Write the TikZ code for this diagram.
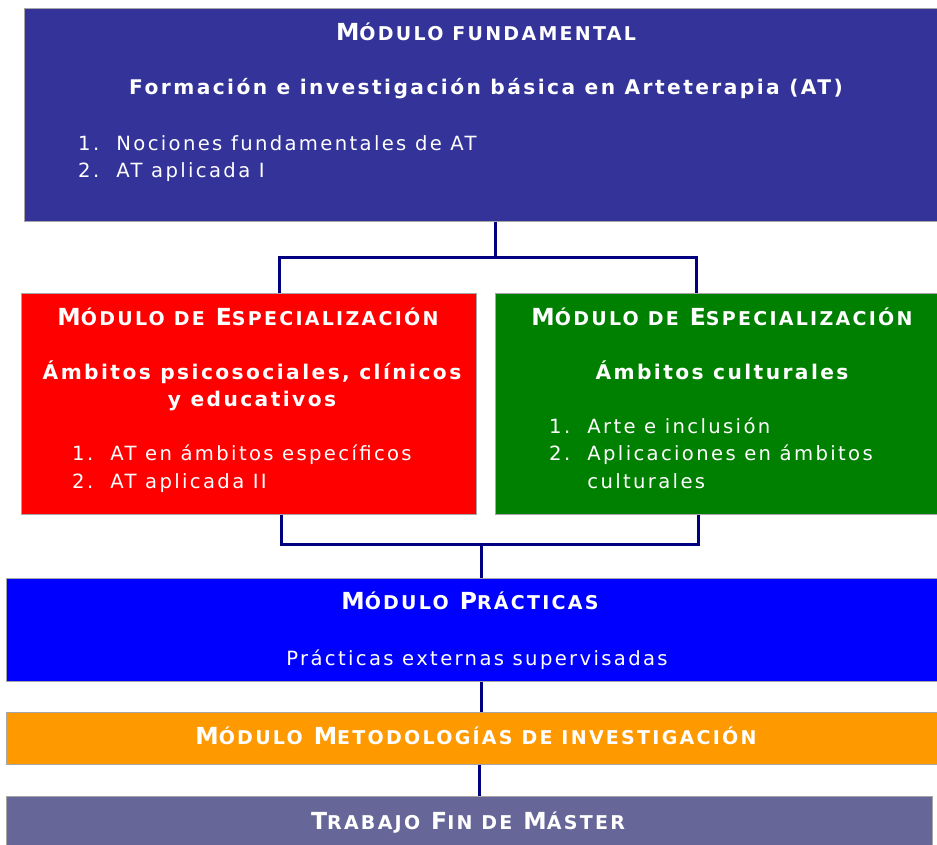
\documentclass[tikz,border=0pt]{standalone}
\usepackage{fontspec}
\setmainfont{DejaVu Sans}[LetterSpace=12]
\usetikzlibrary{calc}
\definecolor{fundblue}{HTML}{333399}
\definecolor{espred}{HTML}{FF0000}
\definecolor{espgreen}{HTML}{008000}
\definecolor{pracblue}{HTML}{0000FF}
\definecolor{metorange}{HTML}{FF9900}
\definecolor{tfmpurple}{HTML}{666699}
\definecolor{linenavy}{HTML}{000080}
% small letters of the fake small caps
\newcommand{\lowcap}[1]{{\fontsize{19}{20}\selectfont #1}}

\begin{document}
\begin{tikzpicture}[x=1pt, y=-1pt,
  box/.style = {rectangle, anchor=north west, inner sep=0pt, draw=black!35, line width=0.6pt},
  head/.style = {text=white, font=\fontsize{23.5}{24}\selectfont\bfseries, anchor=base},
  sub/.style = {text=white, font=\fontsize{20.2}{27}\selectfont\bfseries, anchor=base, align=center},
  items/.style = {text=white, font=\fontsize{19.6}{27.5}\selectfont, anchor=base west, align=left, inner sep=0pt},
  conn/.style = {draw=linenavy, line width=3pt}]
\useasboundingbox (0,0) rectangle (937,845);

% boxes
\node[box, fill=fundblue, minimum width=942pt, minimum height=213pt] (fund) at (24,8) {};
\node[box, fill=espred, minimum width=455pt, minimum height=221pt] (espA) at (21,293) {};
\node[box, fill=espgreen, minimum width=442pt, minimum height=221pt] (espB) at (495,293) {};
\node[box, fill=pracblue, minimum width=950pt, minimum height=103pt] (prac) at (6,578) {};
\node[box, fill=metorange, minimum width=946pt, minimum height=52pt] (metod) at (6,712) {};
\node[box, fill=tfmpurple, minimum width=926pt, minimum height=52pt] (tfm) at (6,796) {};

% connectors
\draw[conn] (fund.south) -- ([yshift=-36pt]fund.south);
\draw[conn] ([xshift=30.5pt]espA.north) |- ([yshift=-36pt]fund.south) -| ([xshift=-20pt]espB.north);
\draw[conn] ([xshift=32.5pt]espA.south) |- ([yshift=34pt]prac.north) -| ([xshift=-18pt]espB.south);
\draw[conn] (prac.north) -- ([yshift=34pt]prac.north);
\draw[conn] (prac.south) -- (prac.south |- metod.north);
\draw[conn] (metod.south) -- (metod.south |- tfm.north);

% texts (base of multi-line nodes = last line)
\node[head] (fundT) at (486,41) {M\lowcap{ÓDULO FUNDAMENTAL}};
\node[sub] (fundS) at (486,95) {Formación e investigación básica en Arteterapia (AT)};
\node[items] (fundL) at (78,178) {1.\ \ Nociones fundamentales de AT\\2.\ \ AT aplicada I};

\node[head] (espAT) at (248,325) {M\lowcap{ÓDULO DE} E\lowcap{SPECIALIZACIÓN}};
\node[sub] (espAS) at (252,406) {Ámbitos psicosociales, clínicos\\y educativos};
\node[items] (espAL) at (72,488) {1.\ \ AT en ámbitos específicos\\2.\ \ AT aplicada II};

\node[head] (espBT) at (722,325) {M\lowcap{ÓDULO DE} E\lowcap{SPECIALIZACIÓN}};
\node[sub] (espBS) at (722,379) {Ámbitos culturales};
\node[items] (espBL) at (549,488) {1.\ \ Arte e inclusión\\2.\ \ Aplicaciones en ámbitos\\\hphantom{2.\ \ }culturales};

\node[head] (pracT) at (470,609) {M\lowcap{ÓDULO} P\lowcap{RÁCTICAS}};
\node[sub, font=\fontsize{19.6}{24}\selectfont] (pracS) at (477,665) {Prácticas externas supervisadas};

\node[head] (metodT) at (476,744) {M\lowcap{ÓDULO} M\lowcap{ETODOLOGÍAS DE INVESTIGACIÓN}};
\node[head] (tfmT) at (468,829) {T\lowcap{RABAJO} F\lowcap{IN DE} M\lowcap{ÁSTER}};
\end{tikzpicture}
\end{document}
